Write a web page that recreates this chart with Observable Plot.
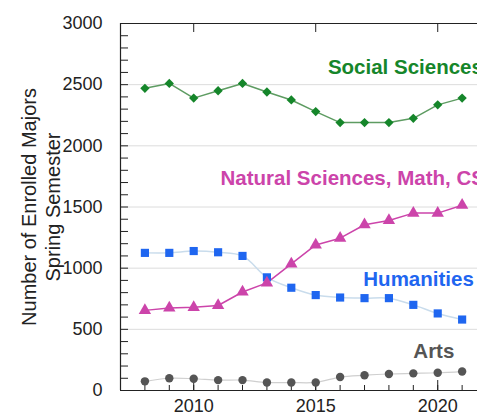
<!DOCTYPE html>
<html>
<head>
<meta charset="utf-8">
<script src="https://cdn.jsdelivr.net/npm/d3@7"></script>
<script src="https://cdn.jsdelivr.net/npm/@observablehq/plot@0.6"></script>
<style>
  html, body { margin: 0; padding: 0; background: #fff; }
  body { width: 477px; height: 416px; overflow: hidden; }
</style>
</head>
<body>
<div id="chart"></div>
<script>
const years = [2008, 2009, 2010, 2011, 2012, 2013, 2014, 2015, 2016, 2017, 2018, 2019, 2020, 2021];
const socialSciences = [2470, 2510, 2390, 2450, 2510, 2440, 2375, 2280, 2190, 2190, 2190, 2225, 2335, 2390];
const naturalSciences = [655, 675, 680, 695, 805, 880, 1035, 1190, 1245, 1355, 1390, 1450, 1450, 1515];
const humanities = [1125, 1125, 1140, 1130, 1100, 925, 840, 780, 760, 755, 755, 700, 630, 580];
const arts = [75, 100, 96, 85, 85, 65, 65, 66, 110, 125, 135, 140, 145, 155];

const yTicks = [0, 500, 1000, 1500, 2000, 2500, 3000];
const xTickLabels = [2010, 2015, 2020];
const yTitle = "Number of Enrolled Majors\nSpring Semester";

const seriesLabels = [
  {name: "Social Sciences", year: 2015.5, value: 2640, color: "#15862a"},
  {name: "Natural Sciences, Math, CS", year: 2011.1, value: 1735, color: "#cc44aa"},
  {name: "Humanities", year: 2016.95, value: 907, color: "#1f66f0"},
  {name: "Arts", year: 2019.0, value: 320, color: "#555555"}
];

const toRows = (vals) => years.map((y, i) => ({year: y, value: vals[i]}));
const soc = toRows(socialSciences);
const nat = toRows(naturalSciences);
const hum = toRows(humanities);
const art = toRows(arts);

const font = "'Liberation Sans', Arial, Helvetica, sans-serif";

const chart = Plot.plot({
  width: 477,
  height: 416,
  marginLeft: 120,
  marginRight: 0,
  marginTop: 23,
  marginBottom: 26,
  style: {fontFamily: font, fontSize: "18px", color: "#222", background: "#fff"},
  x: {domain: [2007, 2021.63], axis: null},
  y: {domain: [0, 3000], axis: null},
  marks: [
    Plot.ruleY([500, 1000, 1500, 2000, 2500], {stroke: "#dcdcdc", strokeWidth: 1}),
    // lines
    Plot.line(art, {x: "year", y: "value", stroke: "#cfcfcf", strokeWidth: 1.2, curve: "catmull-rom"}),
    Plot.line(hum, {x: "year", y: "value", stroke: "#c9dcec", strokeWidth: 1.5, curve: "catmull-rom"}),
    Plot.line(nat, {x: "year", y: "value", stroke: "#cc44aa", strokeWidth: 1.5}),
    Plot.line(soc, {x: "year", y: "value", stroke: "#5e9c62", strokeWidth: 1.5}),
    // frame lines
    Plot.ruleY([0, 3000], {stroke: "#222", strokeWidth: 1.2}),
    Plot.ruleX([2007], {stroke: "#222", strokeWidth: 1.2}),
    // ticks
    Plot.axisY({ticks: d3.range(0, 3001, 100), tickSize: 8, dx: 8, text: null, label: null, stroke: "#222"}),
    Plot.axisX({ticks: years, tickSize: 5, dy: -5, text: null, label: null, stroke: "#222"}),
    Plot.axisX({ticks: xTickLabels, tickSize: 10, dy: -10, text: null, label: null, stroke: "#222"}),
    Plot.axisX({ticks: xTickLabels, anchor: "top", tickSize: 8, dy: 8, text: null, label: null, stroke: "#222"}),
    // tick labels
    Plot.axisY({ticks: yTicks, tickSize: 0, tickPadding: 18, tickFormat: "d", label: null, fontSize: 18, fill: "#222"}),
    Plot.axisX({ticks: xTickLabels, tickSize: 0, tickPadding: 9, tickFormat: "d", label: null, fontSize: 18, fill: "#222"}),
    // dots
    Plot.dot(art, {x: "year", y: "value", symbol: "circle", r: 4.2, fill: "#555555"}),
    Plot.dot(hum, {x: "year", y: "value", symbol: "square", r: 4.6, fill: "#1f66f0"}),
    Plot.dot(nat, {x: "year", y: "value", symbol: "triangle", r: 4.6, fill: "#cc44aa"}),
    Plot.dot(soc, {x: "year", y: "value", symbol: "diamond2", r: 4.2, fill: "#15862a"}),
    // y title
    Plot.text([yTitle], {frameAnchor: "left", textAnchor: "middle", dx: -80, rotate: -90, text: d => d, fontSize: 20, lineHeight: 1.2, fill: "#222"}),
    // series labels
    Plot.text(seriesLabels, {x: "year", y: "value", text: "name", fill: "color", textAnchor: "start", fontWeight: "bold", fontSize: 20.5})
  ]
});
document.getElementById("chart").appendChild(chart);
</script>
</body>
</html>
